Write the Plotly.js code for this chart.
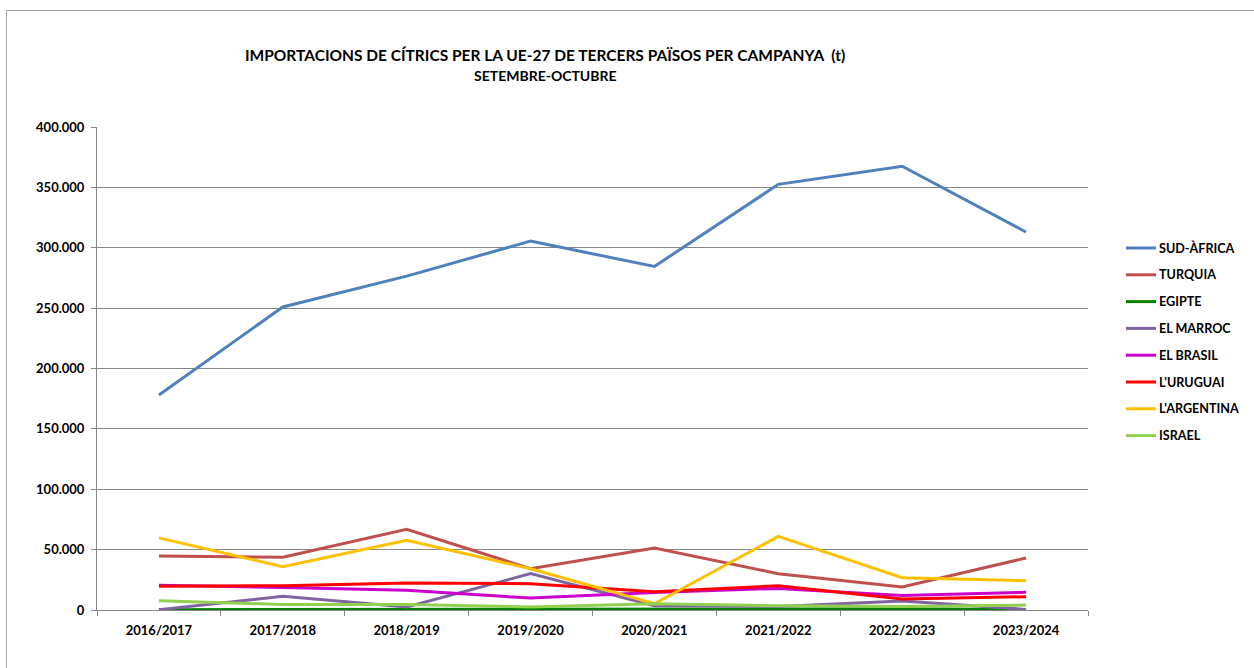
<!DOCTYPE html>
<html>
<head>
<meta charset="utf-8">
<script src="https://cdn.plot.ly/plotly-3.0.1.min.js"></script>
<style>
body { margin: 0; background: #fff; }
#chart { position: absolute; left: 0; top: 0; width: 1254px; height: 668px; }
#frame { position: absolute; left: 6px; top: 10px; width: 1300px; height: 700px;
  border-left: 1px solid #a6a6a6; border-top: 1px solid #a6a6a6; pointer-events: none; }
</style>
</head>
<body>
<div id="chart"></div>
<div id="frame"></div>
<script>
// campaigns (setembre-octubre), tones
let campaigns = ["2016/2017","2017/2018","2018/2019","2019/2020","2020/2021","2021/2022","2022/2023","2023/2024"];

let sudAfrica  = [178000, 251000, 276500, 305500, 284500, 352500, 367500, 313000];
let turquia    = [44800, 43700, 66800, 34200, 51400, 30100, 19000, 43100];
let egipte     = [300, 300, 400, 300, 500, 800, 1000, 300];
let marroc     = [300, 11300, 2500, 30100, 3600, 3000, 7500, 500];
let brasil     = [20400, 18700, 16300, 9900, 14500, 17900, 12100, 14600];
let uruguai    = [19600, 20100, 22400, 21800, 15200, 20100, 9100, 11000];
let argentina  = [59700, 35900, 57700, 34200, 5200, 61000, 26800, 24300];
let israel     = [7700, 4600, 4600, 2500, 5200, 3600, 3000, 4100];

let seriesNames  = ["SUD-ÀFRICA","TURQUIA","EGIPTE","EL MARROC","EL BRASIL","L'URUGUAI","L'ARGENTINA","ISRAEL"];
let seriesValues = [sudAfrica, turquia, egipte, marroc, brasil, uruguai, argentina, israel];
let seriesColors = ["#4f81bd","#c0504d","#008000","#8064a2","#cc00cc","#ff0000","#ffc000","#92d050"];

let yTicks = [0,50000,100000,150000,200000,250000,300000,350000,400000];

// plot area in pixels
let L = 97, R = 1088, T = 127, B = 610;
function xp(px){ return (px - L) / (R - L); }
function yp(py){ return (B - py) / (B - T); }

let fontFam = "Lato, 'Open Sans', sans-serif";

var traces = [];
for (let i = 0; i < seriesNames.length; i++) {
  traces.push({
    x: campaigns,
    y: seriesValues[i],
    name: seriesNames[i],
    mode: 'lines',
    line: { color: seriesColors[i], width: 3 },
    showlegend: false
  });
}

// hand made legend (Excel style spacing)
var shapes = [];
var annotations = [];
for (let i = 0; i < seriesNames.length; i++) {
  let py = 248 + i * 26.8;
  shapes.push({
    type: 'line', xref: 'paper', yref: 'paper',
    x0: xp(1126), x1: xp(1156), y0: yp(py), y1: yp(py),
    line: { color: seriesColors[i], width: 3 }
  });
  annotations.push({
    xref: 'paper', yref: 'paper', x: xp(1157), y: yp(py),
    xanchor: 'left', yanchor: 'middle', showarrow: false,
    text: seriesNames[i],
    font: { family: fontFam, size: 12.6, color: '#000', weight: 'bold' }
  });
}

annotations.push({
  xref: 'paper', yref: 'paper', x: xp(545), y: yp(55),
  xanchor: 'center', yanchor: 'middle', showarrow: false,
  text: "IMPORTACIONS DE CÍTRICS PER LA UE-27 DE TERCERS PAÏSOS PER CAMPANYA  (t)",
  font: { family: fontFam, size: 15.5, color: '#000', weight: 'bold' }
});
annotations.push({
  xref: 'paper', yref: 'paper', x: xp(545), y: yp(75),
  xanchor: 'center', yanchor: 'middle', showarrow: false,
  text: "SETEMBRE-OCTUBRE",
  font: { family: fontFam, size: 14, color: '#000', weight: 'bold' }
});

var layout = {
  width: 1254,
  height: 668,
  margin: { l: L, r: 1254 - R, t: T, b: 668 - B, pad: 0 },
  paper_bgcolor: 'rgba(0,0,0,0)',
  plot_bgcolor: 'rgba(0,0,0,0)',
  separators: ',.',
  showlegend: false,
  font: { family: fontFam, size: 12, color: '#000' },
  xaxis: {
    type: 'category',
    range: [-0.5, campaigns.length - 0.5],
    showline: true, linecolor: '#868686', linewidth: 1,
    showgrid: false, zeroline: false,
    ticks: 'outside', ticklen: 5, tickcolor: '#868686',
    tickson: 'boundaries',
    ticklabelstandoff: 8,
    tickfont: { family: fontFam, size: 13, color: '#000', weight: 'bold' }
  },
  yaxis: {
    range: [0, 400000],
    tickvals: yTicks,
    tickformat: ',d',
    showline: true, linecolor: '#868686', linewidth: 1,
    showgrid: true, gridcolor: '#868686', gridwidth: 1,
    zeroline: false,
    ticks: 'outside', ticklen: 5, tickcolor: '#868686',
    ticklabelstandoff: 4,
    tickfont: { family: fontFam, size: 13, color: '#000', weight: 'bold' }
  },
  shapes: shapes,
  annotations: annotations
};

Plotly.newPlot('chart', traces, layout, { staticPlot: true });
</script>
</body>
</html>
